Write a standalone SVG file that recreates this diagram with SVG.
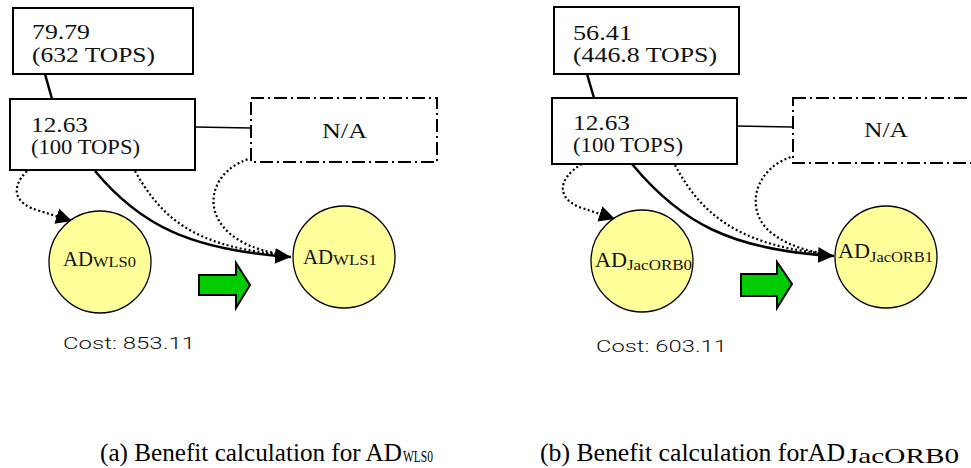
<svg xmlns="http://www.w3.org/2000/svg" width="971" height="468" viewBox="0 0 971 468">
  <style>
    .box { fill: #ffffff; stroke: #000000; stroke-width: 2; }
    .na { fill: #ffffff; stroke: #000000; stroke-width: 2; stroke-dasharray: 13 4 2 4; }
    .ad { fill: #ffff99; stroke: #000000; stroke-width: 1.3; }
    .go { fill: #00cc00; stroke: #000000; stroke-width: 2; stroke-linejoin: miter; }
    .link { fill: none; stroke: #000000; stroke-width: 2.5; }
    .thin { fill: none; stroke: #000000; stroke-width: 1.5; }
    .solid { fill: none; stroke: #000000; stroke-width: 2.5; marker-end: url(#head); }
    .dot { fill: none; stroke: #000000; stroke-width: 2.2; stroke-dasharray: 2 2.5; }
    .dota { fill: none; stroke: #000000; stroke-width: 2.2; stroke-dasharray: 2 2.5; marker-end: url(#head); }
    .val { font-family: "Liberation Serif", "DejaVu Serif", serif; font-size: 21px; fill: #111111; }
    .lbl { font-family: "Liberation Serif", "DejaVu Serif", serif; font-size: 22px; fill: #111111; }
    .sub { font-family: "Liberation Serif", "DejaVu Serif", serif; font-size: 15px; fill: #111111; }
    .cost { font-family: Roboto, "Liberation Sans", sans-serif; font-size: 17px; font-weight: 300; fill: #111111; }
    .cap { font-family: "Liberation Serif", "Times New Roman", serif; font-size: 25px; fill: #000000; }
    .capsub { font-family: "Liberation Serif", "Times New Roman", serif; fill: #000000; }
  </style>
  <defs>
    <marker id="head" markerUnits="userSpaceOnUse" markerWidth="18" markerHeight="18" refX="16" refY="8.5" orient="auto">
      <path d="M0,0.5 L16,8.5 L0,16.5 z" fill="#000000"/>
    </marker>
  </defs>

  <!-- connectors -->
  <g id="connectors">
    <!-- panel (a) -->
    <path class="link" d="M45,74 L52,99"/>
    <path class="thin" d="M195,127 L251,128"/>
    <path class="dota" d="M27,171 C10,188 14,204 40,211 L72,221"/>
    <path class="dot" d="M135,171 C160,215 190,245 276,254"/>
    <path class="dot" d="M252,158 C215,168 200,205 228,232 C245,247 265,251 278,254"/>
    <path class="solid" d="M95,171 C140,225 190,250 291,257"/>
    <!-- panel (b) -->
    <path class="link" d="M587,74 L594,98"/>
    <path class="thin" d="M737,126 L793,127"/>
    <path class="dota" d="M582,164 C555,180 558,200 582,208 L615,219"/>
    <path class="dot" d="M675,165 C700,212 735,243 818,253"/>
    <path class="dot" d="M795,156 C758,165 743,205 768,230 C785,245 805,250 820,253"/>
    <path class="solid" d="M632,164 C680,222 730,250 834,256"/>
  </g>

  <!-- panel (a) nodes -->
  <g id="a-top">
    <rect class="box" x="13" y="8" width="180" height="66"/>
    <text class="val" x="32" y="39" textLength="58" lengthAdjust="spacingAndGlyphs">79.79</text>
    <text class="val" x="32" y="62" textLength="123" lengthAdjust="spacingAndGlyphs">(632 TOPS)</text>
  </g>
  <g id="a-base">
    <rect class="box" x="10" y="99" width="185" height="71"/>
    <text class="val" x="31" y="132" textLength="57" lengthAdjust="spacingAndGlyphs">12.63</text>
    <text class="val" x="31" y="154" textLength="109" lengthAdjust="spacingAndGlyphs">(100 TOPS)</text>
  </g>
  <g id="a-na">
    <rect class="na" x="251" y="98" width="186" height="64"/>
    <text class="val" x="322" y="138" textLength="45" lengthAdjust="spacingAndGlyphs">N/A</text>
  </g>
  <g id="a-wls0">
    <circle class="ad" cx="100" cy="262" r="51"/>
    <text class="lbl" x="63" y="266" textLength="30" lengthAdjust="spacingAndGlyphs">AD</text>
    <text class="sub" x="93" y="267" textLength="43" lengthAdjust="spacingAndGlyphs">WLS0</text>
  </g>
  <g id="a-wls1">
    <circle class="ad" cx="344" cy="257" r="51"/>
    <text class="lbl" x="303" y="264" textLength="30" lengthAdjust="spacingAndGlyphs">AD</text>
    <text class="sub" x="333" y="265" textLength="44" lengthAdjust="spacingAndGlyphs">WLS1</text>
  </g>
  <g id="a-step">
    <polygon class="go" points="199,275 236,275 236,263 250,285 236,308 236,295 199,295"/>
  </g>
  <g id="a-cost">
    <text class="cost" x="63" y="349" textLength="132" lengthAdjust="spacingAndGlyphs">Cost: 853.11</text>
  </g>

  <!-- panel (b) nodes -->
  <g id="b-top">
    <rect class="box" x="554" y="7" width="185" height="67"/>
    <text class="val" x="573" y="40" textLength="59" lengthAdjust="spacingAndGlyphs">56.41</text>
    <text class="val" x="573" y="62" textLength="144" lengthAdjust="spacingAndGlyphs">(446.8 TOPS)</text>
  </g>
  <g id="b-base">
    <rect class="box" x="552" y="98" width="185" height="66"/>
    <text class="val" x="573" y="130" textLength="57" lengthAdjust="spacingAndGlyphs">12.63</text>
    <text class="val" x="573" y="152" textLength="110" lengthAdjust="spacingAndGlyphs">(100 TOPS)</text>
  </g>
  <g id="b-na">
    <rect class="na" x="793" y="98" width="192" height="65"/>
    <text class="val" x="864" y="137" textLength="44" lengthAdjust="spacingAndGlyphs">N/A</text>
  </g>
  <g id="b-jacorb0">
    <circle class="ad" cx="642" cy="261" r="51"/>
    <text class="lbl" x="595" y="267" textLength="32" lengthAdjust="spacingAndGlyphs">AD</text>
    <text class="sub" x="627" y="270" textLength="65" lengthAdjust="spacingAndGlyphs">JacORB0</text>
  </g>
  <g id="b-jacorb1">
    <circle class="ad" cx="886" cy="257" r="51"/>
    <text class="lbl" x="838" y="258" textLength="32" lengthAdjust="spacingAndGlyphs">AD</text>
    <text class="sub" x="870" y="262" textLength="63" lengthAdjust="spacingAndGlyphs">JacORB1</text>
  </g>
  <g id="b-step">
    <polygon class="go" points="741,274 777,274 777,262 792,284 777,308 777,296 741,296"/>
  </g>
  <g id="b-cost">
    <text class="cost" x="596" y="352" textLength="131" lengthAdjust="spacingAndGlyphs">Cost: 603.11</text>
  </g>

  <!-- captions -->
  <g id="captions">
    <text class="cap" x="100" y="461" textLength="302" lengthAdjust="spacingAndGlyphs">(a) Benefit calculation for AD</text>
    <text class="capsub" x="403" y="462" style="font-size:17px" textLength="30" lengthAdjust="spacingAndGlyphs">WLS0</text>
    <text class="cap" x="540" y="461" textLength="305" lengthAdjust="spacingAndGlyphs">(b) Benefit calculation forAD</text>
    <text class="capsub" x="847" y="463" style="font-size:22px" textLength="112" lengthAdjust="spacingAndGlyphs">JacORB0</text>
  </g>
</svg>
